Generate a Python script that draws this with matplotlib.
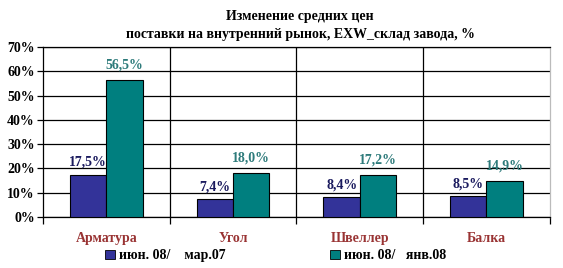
import matplotlib
matplotlib.use("Agg")
import matplotlib.pyplot as plt
import numpy as np
from matplotlib.patches import Patch

categories = ["Арматура", "Угол", "Швеллер", "Балка"]
series_names = ["июн. 08/    мар.07", "июн. 08/   янв.08"]
vals_mar07 = [17.5, 7.4, 8.4, 8.5]
vals_jan08 = [56.5, 18.0, 17.2, 14.9]
yticks = [0, 10, 20, 30, 40, 50, 60, 70]

BLUE = "#333399"
TEAL = "#007F7F"
BLUE_TXT = "#1A1A5E"
TEAL_TXT = "#2E7B7B"
CAT_TXT = "#993333"

plt.rcParams["font.family"] = ["Liberation Serif", "DejaVu Serif"]
plt.rcParams["font.weight"] = "bold"

fig = plt.figure(figsize=(5.63, 2.68), dpi=100)
fig.patch.set_facecolor("white")
ax = fig.add_axes([0.0765, 0.19, 0.9, 0.635])

x = np.arange(len(categories))
w = 0.287
b1 = ax.bar(x - w / 2, vals_mar07, w, color=BLUE, edgecolor="black", lw=0.8, zorder=3)
b2 = ax.bar(x + w / 2, vals_jan08, w, color=TEAL, edgecolor="black", lw=0.8, zorder=3)

# подписи значений над столбцами
for rect, v in zip(b1, vals_mar07):
    ax.annotate(f"{v:.1f}%".replace(".", ","),
                (rect.get_x() + rect.get_width() / 2, v),
                xytext=(0, 4), textcoords="offset points",
                ha="center", va="bottom", fontsize=10, fontweight="bold",
                color=BLUE_TXT)
for rect, v in zip(b2, vals_jan08):
    ax.annotate(f"{v:.1f}%".replace(".", ","),
                (rect.get_x() + rect.get_width() / 2, v),
                xytext=(0, 6), textcoords="offset points",
                ha="center", va="bottom", fontsize=10, fontweight="bold",
                color=TEAL_TXT)

ax.set_xlim(-0.5, len(categories) - 0.5)
ax.set_ylim(0, 70)
ax.set_yticks(yticks)
ax.set_yticklabels([f"{t}%" for t in yticks], fontsize=10, fontweight="bold")
ax.yaxis.grid(True, color="black", lw=0.9, zorder=0)

ax.set_xticks(x)
ax.set_xticklabels(categories, fontsize=10, fontweight="bold", color=CAT_TXT)
ax.tick_params(axis="x", length=0, pad=11)
ax.set_xticks(np.arange(-0.5, len(categories), 1.0), minor=True)
ax.tick_params(axis="x", which="minor", length=5, width=0.9, direction="out")
ax.tick_params(axis="y", length=4, width=0.9, direction="out", pad=2)
for b in np.arange(0.5, len(categories) - 0.5, 1.0):
    ax.axvline(b, color="black", lw=0.9, zorder=1)

for s in ["left", "bottom", "top"]:
    ax.spines[s].set_color("black")
    ax.spines[s].set_linewidth(0.9)
ax.spines["right"].set_color("#BBBBBB")
ax.spines["right"].set_linewidth(0.9)

fig.suptitle("Изменение средних цен\nпоставки на внутренний рынок, EXW_склад завода, %",
             x=0.533, y=0.962, fontsize=10, fontweight="bold", linespacing=1.5)

handles = [Patch(facecolor=BLUE, edgecolor="black", lw=0.6),
           Patch(facecolor=TEAL, edgecolor="black", lw=0.6)]
fig.legend(handles, series_names, loc="center", bbox_to_anchor=(0.49, 0.045),
           ncol=2, frameon=False, fontsize=10, handlelength=0.7, handleheight=0.7,
           handletextpad=0.3, columnspacing=7.5, borderpad=0)

fig.savefig("out.png", dpi=100, facecolor="white")
